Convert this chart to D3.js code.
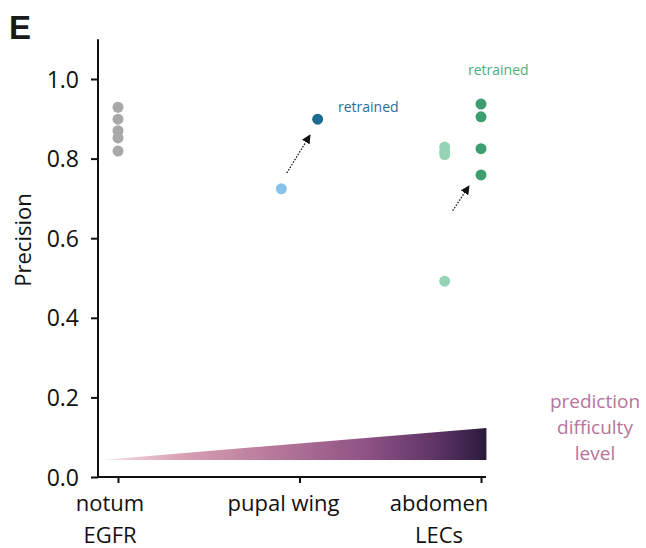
<!DOCTYPE html>
<html><head><meta charset="utf-8">
<script src="https://cdn.jsdelivr.net/npm/d3@7"></script>
<style>body{margin:0;background:#fff}svg{display:block}text{font-family:"Open Sans","Noto Sans",sans-serif}</style>
</head><body>
<svg id="c" width="646" height="548"></svg>
<script>
// ---- data ----
const categories = ["notum\nEGFR", "pupal wing", "abdomen\nLECs"];
const yTicks = [0.0, 0.2, 0.4, 0.6, 0.8, 1.0];
// x given as category index (with small jitter offsets between original/retrained)
const notumX = [0, 0, 0, 0, 0];
const notumY = [0.929, 0.899, 0.870, 0.852, 0.819];
const wingOrigX = [0.9];
const wingOrigY = [0.724];
const wingRetrX = [1.1];
const wingRetrY = [0.899];
const abdOrigX = [1.8, 1.8, 1.8, 1.8];
const abdOrigY = [0.829, 0.818, 0.810, 0.492];
const abdRetrX = [2, 2, 2, 2];
const abdRetrY = [0.937, 0.905, 0.825, 0.759];
const arrows = [
  {x1: 0.93, y1: 0.764, x2: 1.058, y2: 0.859},
  {x1: 1.844, y1: 0.669, x2: 1.934, y2: 0.731}
];
const difficulty = {x0: -0.09, x1: 2.03, yBase: 0.043, yTop: 0.123};

// ---- scales ----
const svg = d3.select("#c");
const x = d3.scaleLinear().domain([0, 2]).range([118, 481]);
const y = d3.scaleLinear().domain([0, 1]).range([477, 79]);

// defs
const defs = svg.append("defs");
const grad = defs.append("linearGradient").attr("id", "diff").attr("x1", "0%").attr("x2", "100%");
[["0%", "#f7e4ea"], ["20%", "#d9a2b5"], ["45%", "#b6789a"], ["70%", "#8c5083"], ["88%", "#5a3362"], ["100%", "#2a1a3c"]]
  .forEach(([o, c]) => grad.append("stop").attr("offset", o).attr("stop-color", c));
defs.append("marker").attr("id", "ah").attr("viewBox", "0 0 10 10").attr("refX", 9).attr("refY", 5)
  .attr("markerWidth", 9).attr("markerHeight", 9).attr("markerUnits", "userSpaceOnUse").attr("orient", "auto")
  .append("path").attr("d", "M0,0 L10,5 L0,10 z").attr("fill", "#111");

// difficulty triangle
svg.append("path")
  .attr("d", `M${x(difficulty.x0)},${y(difficulty.yBase)} L${x(difficulty.x1)},${y(difficulty.yTop)} L${x(difficulty.x1)},${y(difficulty.yBase)} Z`)
  .attr("fill", "url(#diff)");

// axes
const xLeft = 98, xRight = 486;
const yAxis = d3.axisLeft(y).tickValues(yTicks).tickFormat(d3.format(".1f")).tickSize(7).tickPadding(12);
const gy = svg.append("g").attr("transform", `translate(${xLeft},0)`).call(yAxis);
gy.select(".domain").remove();
gy.append("line").attr("x1", 0).attr("x2", 0).attr("y1", y(1.1)).attr("y2", y(0)).attr("stroke", "#111").attr("stroke-width", 2);
gy.selectAll(".tick line").attr("stroke", "#111").attr("stroke-width", 2);
gy.selectAll(".tick text").attr("fill", "#111").style("font-size", "23px").attr("dy", "0.35em");

const xAxis = d3.axisBottom(x).tickValues([0, 1, 2]).tickFormat("").tickSize(6);
const gx = svg.append("g").attr("transform", `translate(0,${y(0)})`).call(xAxis);
gx.select(".domain").remove();
gx.append("line").attr("x1", xLeft - 1).attr("x2", xRight).attr("y1", 0).attr("y2", 0).attr("stroke", "#111").attr("stroke-width", 2);
gx.selectAll(".tick line").attr("stroke", "#111").attr("stroke-width", 2);

// x labels
const labelDx = [-8, -16, -42];
categories.forEach((c, i) => {
  const t = svg.append("text").attr("text-anchor", "middle").attr("fill", "#111").style("font-size", "22px")
    .attr("x", x(i) + labelDx[i]).attr("y", 511);
  c.split("\n").forEach((line, j) => {
    t.append("tspan").attr("x", x(i) + labelDx[i]).attr("dy", j === 0 ? 0 : 32).text(line);
  });
});

// y label
svg.append("text").attr("transform", "translate(31,240) rotate(-90)").attr("text-anchor", "middle")
  .attr("fill", "#111").style("font-size", "22px").text("Precision");

// panel letter
svg.append("text").attr("x", 9).attr("y", 39).style("font-size", "33px").style("font-weight", "bold")
  .attr("fill", "#1a1a1a").style("font-family", "'Liberation Sans', Arial, sans-serif").text("E");

// arrows
svg.selectAll(".arr").data(arrows).join("line").attr("class", "arr")
  .attr("x1", d => x(d.x1)).attr("y1", d => y(d.y1)).attr("x2", d => x(d.x2)).attr("y2", d => y(d.y2))
  .attr("stroke", "#111").attr("stroke-width", 1.3).attr("stroke-dasharray", "1.5,1.5").attr("marker-end", "url(#ah)");

// points
function dots(xs, ys, color) {
  svg.append("g").selectAll("circle").data(ys).join("circle")
    .attr("cx", (d, i) => x(xs[i])).attr("cy", d => y(d)).attr("r", 5.5).attr("fill", color);
}
dots(notumX, notumY, "#a8a8a8");
dots(wingOrigX, wingOrigY, "#88c2ea");
dots(wingRetrX, wingRetrY, "#1e6b91");
dots(abdOrigX, abdOrigY, "#96d3b6");
dots(abdRetrX, abdRetrY, "#3d9f70");

// annotations
svg.append("text").attr("x", 338).attr("y", 112).attr("fill", "#2a6f96").style("font-size", "14px").text("retrained");
svg.append("text").attr("x", 468).attr("y", 75).attr("fill", "#4cae7f").style("font-size", "14px").text("retrained");

const dl = svg.append("text").attr("text-anchor", "middle").attr("fill", "#b8739b").style("font-size", "19px");
["prediction", "difficulty", "level"].forEach((s, j) => dl.append("tspan").attr("x", 595).attr("y", 408 + j * 26).text(s));
</script>
</body></html>
